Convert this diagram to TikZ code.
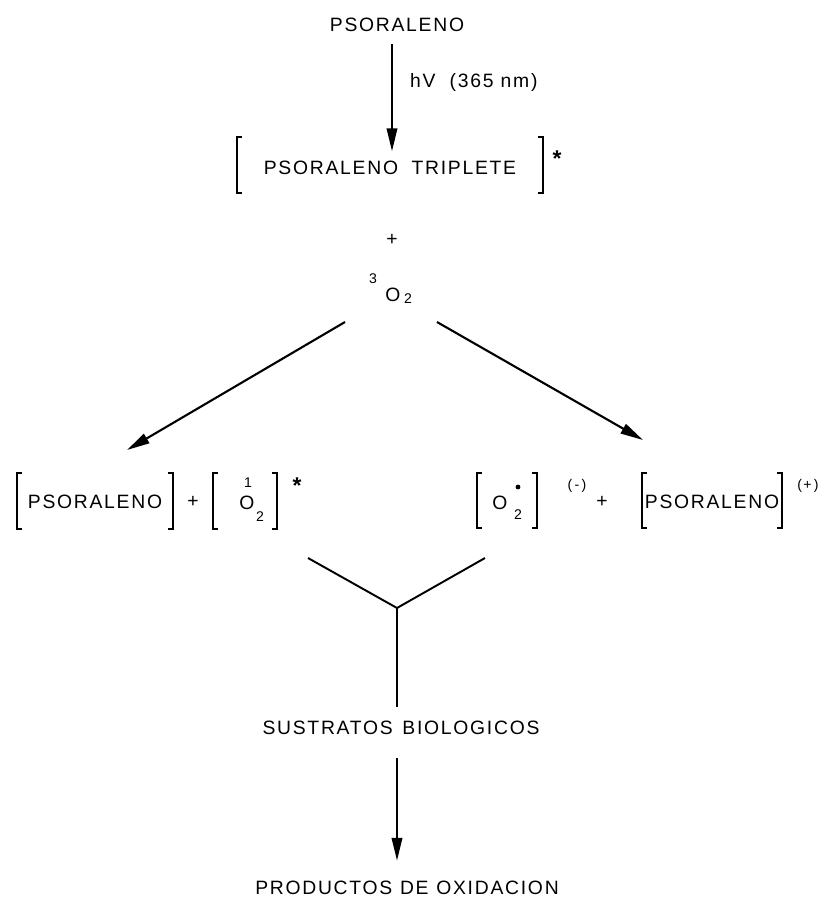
\documentclass[tikz,border=0pt]{standalone}
\usepackage{fontspec}
\setmainfont{Liberation Sans}
\newfontfamily\lettering[LetterSpace=9]{Liberation Sans}
\usetikzlibrary{arrows.meta}

\tikzset{
  lbl/.style={inner sep=1pt, font=\lettering\fontsize{11}{13}\selectfont},
  sm/.style={inner sep=0.5pt, font=\lettering\fontsize{8}{9}\selectfont},
  ast/.style={inner sep=0.5pt, font=\bfseries\fontsize{13}{14}\selectfont},
  arr/.style={line width=1.2pt, -{Triangle[length=13pt,width=6pt]}},
  ln/.style={line width=1.1pt},
  brk/.style={line width=0.9pt},
}

% bracket: x, top y, bottom y
\newcommand{\lbrk}[3]{\draw[brk] (#1+5,#2) -- (#1,#2) -- (#1,#3) -- (#1+5,#3);}
\newcommand{\rbrk}[3]{\draw[brk] (#1-5,#2) -- (#1,#2) -- (#1,#3) -- (#1-5,#3);}

\begin{document}
\begin{tikzpicture}[x=0.02cm, y=-0.02cm]
  \useasboundingbox (0,0) rectangle (828,897);

  \node[lbl] (ps) at (397,25) {PSORALENO};
  \node[lbl, anchor=west] (hv) at (408,82) {hV\ \ (365\ nm)};
  \node[lbl] (trip) at (390,168) {PSORALENO\hspace{0.7em}TRIPLETE};
  \lbrk{237}{137}{193}
  \rbrk{543}{137}{193}
  \node[ast] (st1) at (557,159) {*};
  \node[lbl] (plus1) at (392,240) {+};
  \node[sm] (three) at (373,279) {3};
  \node[lbl] (o2a) at (393,295) {O};
  \node[sm] (two1) at (408,299) {2};

  \draw[arr, shorten <=6pt, shorten >=4.5pt] (ps.south -| plus1) -- (plus1 |- trip.north);

  \coordinate (ls) at (345,322);
  \coordinate (le) at (127,450);
  \coordinate (rs) at (437,322);
  \coordinate (re) at (643,440);
  \draw[arr] (ls) -- (le);
  \draw[arr] (rs) -- (re);

  % left products
  \node[lbl] (psl) at (95,502) {PSORALENO};
  \lbrk{17}{473}{529}
  \rbrk{173}{473}{529}
  \node[lbl] (plus2) at (193,502) {+};
  \lbrk{213}{473}{529}
  \rbrk{277}{473}{529}
  \node[sm] (one) at (248,483) {1};
  \node[lbl] (o2b) at (247,503) {O};
  \node[sm] (two2) at (260,517) {2};
  \node[ast] (st2) at (297,486) {*};

  % right products
  \lbrk{477}{473}{528}
  \rbrk{537}{473}{528}
  \node[lbl] (o2c) at (500,503) {O};
  \fill (518,487) circle (2.4);
  \node[sm] (two3) at (518,515) {2};
  \node[sm] (minus) at (577,486) {(\,-\,)};
  \node[lbl] (plus3) at (602,502) {+};
  \node[lbl] (psr) at (712,502) {PSORALENO};
  \lbrk{642}{473}{528}
  \rbrk{782}{473}{528}
  \node[sm] (plus4) at (808,486) {(+\,)};

  \coordinate (yl) at (308,558);
  \coordinate (yr) at (485,558);
  \coordinate (yj) at (397,608);
  \draw[ln] (yl) -- (yj) -- (yr);

  \node[lbl] (sus) at (401,728) {SUSTRATOS\hspace{0.5em}BIOLOGICOS};
  \node[lbl] (prod) at (407,888) {PRODUCTOS\hspace{0.4em}DE\hspace{0.4em}OXIDACION};

  \draw[ln, shorten >=6.6pt] (yj) -- (yj |- sus.north);
  \draw[arr, shorten <=12pt, shorten >=10.5pt] (yj |- sus.south) -- (yj |- prod.north);
\end{tikzpicture}
\end{document}
